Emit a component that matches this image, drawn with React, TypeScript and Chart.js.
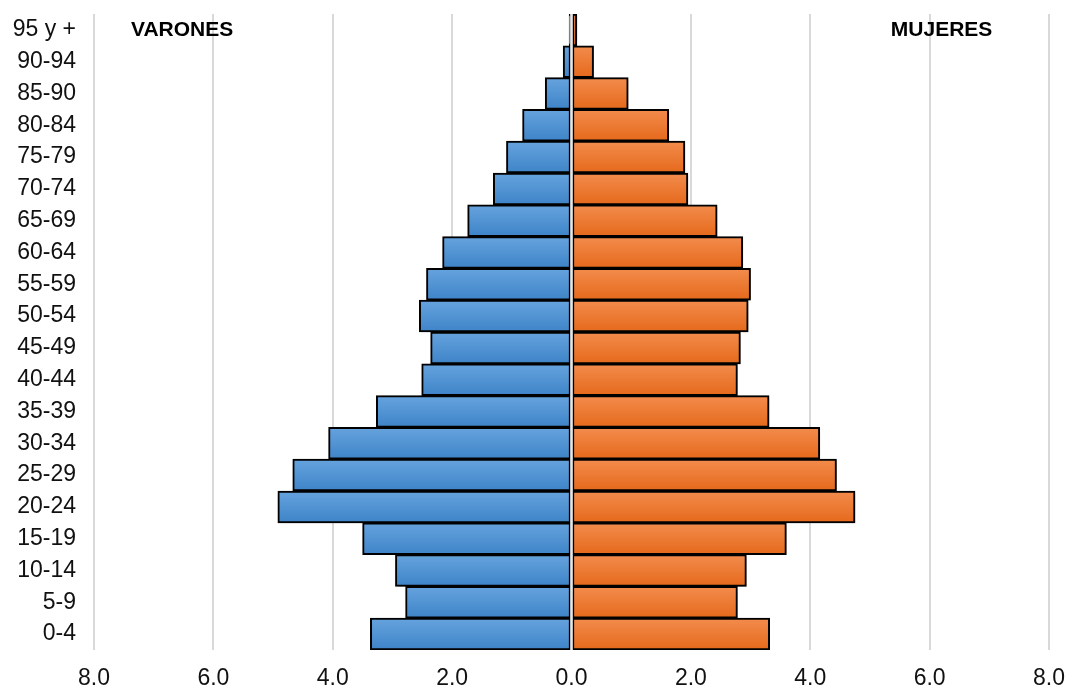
import React, { useEffect, useRef } from "react";
import { Chart, registerables } from "chart.js";

Chart.register(...registerables);

const AGE_GROUPS = [
  "95 y +", "90-94", "85-90", "80-84", "75-79", "70-74", "65-69", "60-64",
  "55-59", "50-54", "45-49", "40-44", "35-39", "30-34", "25-29", "20-24",
  "15-19", "10-14", "5-9", "0-4",
];

// Percent of population (males shown to the left)
const VARONES = [
  0.04, 0.14, 0.44, 0.82, 1.09, 1.31, 1.74, 2.16, 2.43, 2.55,
  2.36, 2.51, 3.27, 4.07, 4.67, 4.92, 3.5, 2.95, 2.78, 3.37,
];
const MUJERES = [
  0.09, 0.37, 0.95, 1.63, 1.9, 1.95, 2.44, 2.87, 3.0, 2.96,
  2.83, 2.78, 3.31, 4.16, 4.44, 4.75, 3.6, 2.93, 2.78, 3.32,
];

const X_MIN = -8;
const X_MAX = 8;
const X_STEP = 2;

const LABEL_MEN = "VARONES";
const LABEL_WOMEN = "MUJERES";

const FONT = '"Liberation Sans", Arial, sans-serif';

function barGradient(ctx: any, colors: [string, string]) {
  const chart = ctx.chart;
  const yScale = chart.scales && chart.scales.y;
  if (!chart.chartArea || !yScale || ctx.dataIndex === undefined) return colors[1];
  const center = yScale.getPixelForValue(ctx.dataIndex);
  const half = (chart.chartArea.bottom - chart.chartArea.top) / AGE_GROUPS.length / 2;
  const g = chart.ctx.createLinearGradient(0, center - half, 0, center + half);
  g.addColorStop(0, colors[0]);
  g.addColorStop(1, colors[1]);
  return g;
}

export default function App() {
  const canvasRef = useRef<HTMLCanvasElement | null>(null);

  useEffect(() => {
    document.body.style.margin = "0";
    const canvas = canvasRef.current;
    if (!canvas) return;

    const overlay = {
      id: "overlay",
      beforeDatasetsDraw(chart: any) {
        const c = chart.ctx;
        c.save();
        c.shadowColor = "rgba(0,0,0,0.28)";
        c.shadowBlur = 4;
        c.shadowOffsetX = 2;
        c.shadowOffsetY = 2;
      },
      afterDatasetsDraw(chart: any) {
        const c = chart.ctx;
        c.restore();
        const x0 = chart.scales.x.getPixelForValue(0);
        c.save();
        c.strokeStyle = "#e6e6e6";
        c.lineWidth = 2.5;
        c.beginPath();
        c.moveTo(x0, chart.chartArea.top);
        c.lineTo(x0, chart.chartArea.bottom);
        c.stroke();
        c.restore();
      },
      afterDraw(chart: any) {
        const c = chart.ctx;
        const xs = chart.scales.x;
        const y = chart.chartArea.top + 16;
        c.save();
        c.fillStyle = "#000";
        c.font = `bold 21px ${FONT}`;
        c.textBaseline = "middle";
        c.textAlign = "left";
        c.fillText(LABEL_MEN, xs.getPixelForValue(-7.38), y);
        c.textAlign = "center";
        c.fillText(LABEL_WOMEN, xs.getPixelForValue(6.2), y);
        c.restore();
      },
    };

    const chart = new Chart(canvas, {
      type: "bar",
      data: {
        labels: AGE_GROUPS,
        datasets: [
          {
            label: LABEL_MEN,
            data: VARONES.map((v) => -v),
            backgroundColor: (ctx: any) => barGradient(ctx, ["#66a3de", "#3e84c8"]),
            borderColor: "#000",
            borderWidth: 2,
            borderSkipped: false,
            barPercentage: 1,
            categoryPercentage: 1,
          },
          {
            label: LABEL_WOMEN,
            data: MUJERES,
            backgroundColor: (ctx: any) => barGradient(ctx, ["#f38c4d", "#e5691b"]),
            borderColor: "#000",
            borderWidth: 2,
            borderSkipped: false,
            barPercentage: 1,
            categoryPercentage: 1,
          },
        ],
      },
      options: {
        indexAxis: "y",
        animation: false,
        responsive: true,
        maintainAspectRatio: false,
        layout: { padding: { top: 14, right: 18, left: 0, bottom: 0 } },
        plugins: {
          legend: { display: false },
          tooltip: { enabled: false },
        },
        scales: {
          x: {
            stacked: true,
            min: X_MIN,
            max: X_MAX,
            ticks: {
              stepSize: X_STEP,
              color: "#111",
              font: { family: FONT, size: 23 },
              padding: 15,
              maxRotation: 0,
              callback: (v: any) => Math.abs(Number(v)).toFixed(1),
            },
            grid: { color: "#d9d9d9", lineWidth: 2, drawTicks: false },
            border: { display: false },
            afterFit: (s: any) => {
              s.height = 39;
              s.paddingLeft = 0;
              s.paddingRight = 0;
              s.paddingTop = 0;
              s.paddingBottom = 0;
            },
          },
          y: {
            stacked: true,
            ticks: {
              color: "#111",
              font: { family: FONT, size: 23 },
              padding: 18,
            },
            grid: { display: false, drawTicks: false },
            border: { display: false },
            afterFit: (s: any) => {
              s.width = 94;
              s.paddingLeft = 0;
              s.paddingRight = 0;
              s.paddingTop = 0;
              s.paddingBottom = 0;
            },
          },
        },
      },
      plugins: [overlay],
    });

    return () => chart.destroy();
  }, []);

  return (
    <div style={{ position: "fixed", left: 0, top: 0, width: 1067, height: 689, background: "#fff" }}>
      <canvas ref={canvasRef} />
    </div>
  );
}
